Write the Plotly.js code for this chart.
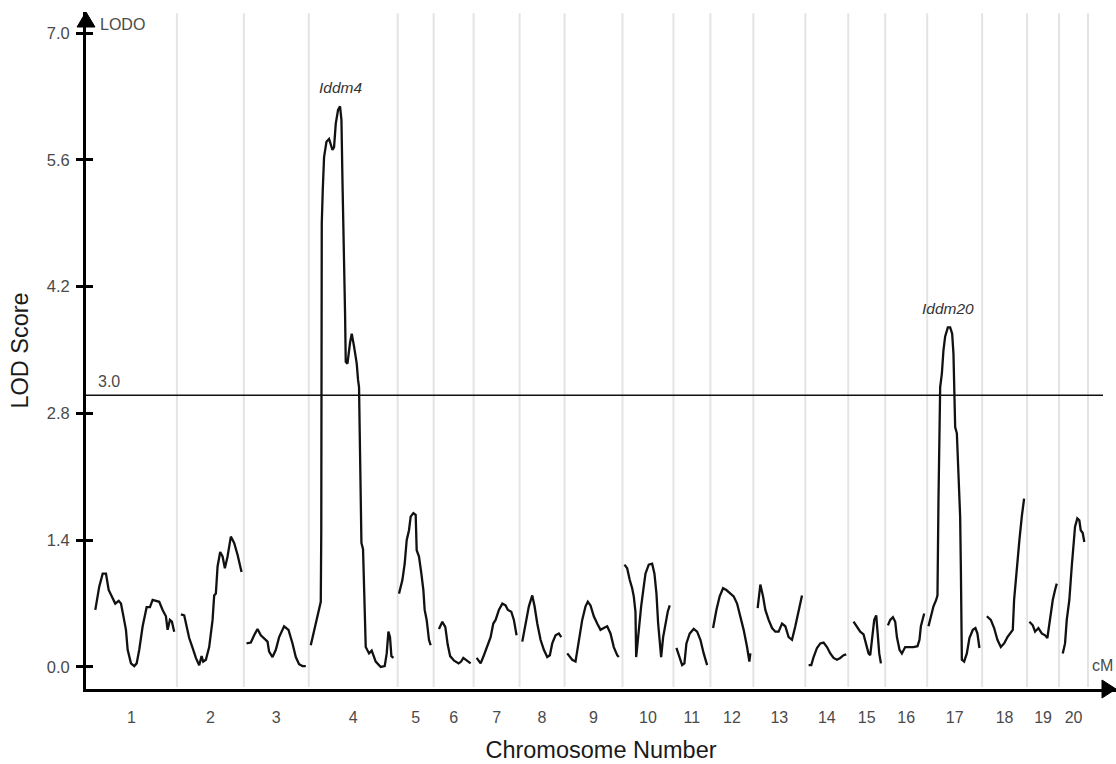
<!DOCTYPE html>
<html>
<head>
<meta charset="utf-8">
<script src="https://cdn.plot.ly/plotly-3.0.1.min.js"></script>
<style>
  html, body { margin: 0; padding: 0; background: #fff; }
  #chart { width: 1116px; height: 764px; }
</style>
</head>
<body>
<div id="chart"></div>
<script>
// ---------------- DATA ----------------
const chromosomes = ['1','2','3','4','5','6','7','8','9','10','11','12','13','14','15','16','17','18','19','20'];
// chromosome lengths (cM, as drawn)
const chrLengths = [91, 67, 65, 89, 36, 40, 46, 45, 58, 51, 37, 43, 52, 43, 37, 42, 55, 45, 32, 29];

// positions within each chromosome (cM)
const lodPositions = [
  [9.3,13.3,16.7,20,22.7,26.7,29.3,32.7,35,37.3,40,41.7,45,48.3,50.7,53.3,56.7,60.7,64,66.7,70,73.3,76.7,80,81.7,84,86,88.3],
  [4,7.3,9.7,12.3,15.7,19,22.3,24.7,26.3,29,32.3,35.7,37.3,39,40.7,43.3,45.7,48,50.7,54,57.3,60.7,64.7],
  [2.7,7,10.3,13.7,17,20.3,23.7,25.3,28.7,32,35.3,40.3,44.7,48.7,52,55.3,58.7,62],
  [2,7,11,12,12.5,12.8,13,14,15.3,17.7,20.3,23.7,25.3,27,29.3,31.3,32.7,33.7,35.3,36.3,37,38.7,41.3,43,45.3,48,49.3,50.3,52.7,54.3,57,60.3,63,67,72,76,78,79.7,81.3,82.7,84.7],
  [1.3,4.7,7,9,11.3,13,15.7,18,19,21.3,23.7,25.7,27,29,31.3,33],
  [5.3,8.7,11.7,14,16.5,20.5,25,27.5,29.7,32,35.3,37],
  [3,7,10.3,13.7,17,19.7,22,25.3,28.7,32,34.3,37.7,40.3,43],
  [2.7,6,9.3,12.7,15,17.7,21,24.3,27.7,30.3,32.7,36,39.3,41.7],
  [2.7,7.7,11,14.3,17.7,21,23.3,26,29.3,32.7,36,39.3,42.7,46,49.3,52.7,54.3],
  [2,4.7,7.3,9.7,11.3,13,13.7,14.7,16.3,18.7,21.3,23,26.3,29.7,32,34,35.7,37.3,38.7,40.7,43,45.3,47.3],
  [3,5.3,8.7,11,13,16.3,20.3,23.7,27,30.3,33.7],
  [2.7,6,9.3,12.7,16,20,23.3,26.7,30,33.3,36.7,39,40],
  [4.3,7,9.7,12,15.3,18.7,22,25.3,28.7,32,35.3,38.7,42,45.3,48.7],
  [3.3,6,8.3,11.7,15,18.3,21.7,25,28.3,31.7,35,38.3,41],
  [5.3,8.7,12,15.3,18,20.3,22,23.7,26,28,29.3,31,32.7],
  [2.7,5,7.7,10,11.7,14.3,16.7,20,24.3,28.3,32.3,34.3,35.7,37.7,39],
  [1.3,3.7,6.3,9,10.3,11.3,12,13,14.7,16.3,18,20.7,23,25,26.3,27.3,28,29.7,31.3,33,33.7,34.7,37,39.7,42.3,45.7,48.3,50.3,52.3],
  [4.7,8.7,12,15.3,18.7,22,25.3,28.7,30.7,32,34.7,37.3,39.7,42],
  [2.3,5.7,8,11.3,14.7,18,20.3,23,25.7,28,29.7],
  [3.7,6,7.7,10.3,12.7,14.3,16,18.3,20.3,21.7,23.7,25.3]
];

// LOD scores at those positions
const lodScores = [
  [0.63,0.89,1.03,1.03,0.85,0.76,0.70,0.73,0.70,0.57,0.41,0.19,0.04,0.01,0.04,0.19,0.45,0.66,0.66,0.74,0.73,0.72,0.63,0.56,0.41,0.52,0.50,0.39],
  [0.58,0.57,0.45,0.32,0.21,0.10,0.02,0.12,0.06,0.08,0.22,0.52,0.79,0.81,1.11,1.27,1.22,1.09,1.22,1.44,1.37,1.24,1.05],
  [0.26,0.27,0.35,0.42,0.35,0.32,0.28,0.17,0.11,0.19,0.33,0.45,0.41,0.26,0.11,0.03,0.01,0.01],
  [0.24,0.47,0.66,0.72,1.5,3.0,4.9,5.27,5.63,5.80,5.83,5.71,5.74,6.0,6.15,6.19,6.04,5.38,4.64,3.91,3.37,3.35,3.58,3.68,3.54,3.35,3.17,3.09,1.37,1.3,0.22,0.15,0.18,0.06,0.0,0.01,0.15,0.39,0.33,0.12,0.10],
  [0.81,0.96,1.14,1.40,1.51,1.66,1.70,1.68,1.29,1.22,1.03,0.85,0.63,0.52,0.30,0.24],
  [0.42,0.50,0.44,0.25,0.12,0.07,0.04,0.06,0.10,0.08,0.05,0.04],
  [0.10,0.04,0.13,0.24,0.33,0.48,0.52,0.63,0.70,0.68,0.63,0.61,0.52,0.35],
  [0.28,0.48,0.67,0.79,0.67,0.48,0.30,0.19,0.11,0.13,0.26,0.35,0.37,0.33],
  [0.15,0.08,0.06,0.30,0.52,0.67,0.72,0.68,0.56,0.48,0.41,0.43,0.45,0.37,0.22,0.13,0.11],
  [1.13,1.09,0.96,0.87,0.78,0.61,0.11,0.22,0.45,0.67,0.89,1.03,1.13,1.14,1.03,0.81,0.48,0.22,0.11,0.33,0.48,0.61,0.68],
  [0.21,0.13,0.02,0.04,0.26,0.37,0.42,0.39,0.30,0.15,0.02],
  [0.43,0.63,0.78,0.87,0.85,0.81,0.78,0.70,0.56,0.41,0.22,0.06,0.15],
  [0.65,0.91,0.78,0.63,0.52,0.43,0.39,0.39,0.48,0.45,0.33,0.30,0.45,0.63,0.79],
  [0.02,0.02,0.11,0.21,0.26,0.27,0.22,0.15,0.10,0.08,0.10,0.13,0.14],
  [0.50,0.45,0.39,0.36,0.26,0.15,0.13,0.33,0.52,0.57,0.37,0.15,0.04],
  [0.46,0.52,0.55,0.50,0.33,0.19,0.15,0.22,0.22,0.22,0.23,0.30,0.45,0.56,0.59],
  [0.45,0.57,0.67,0.74,0.79,1.84,2.76,3.09,3.24,3.50,3.65,3.75,3.75,3.68,3.46,2.98,2.65,2.58,2.14,1.66,1.11,0.08,0.06,0.15,0.32,0.41,0.43,0.37,0.21],
  [0.56,0.52,0.43,0.30,0.22,0.26,0.33,0.38,0.41,0.74,1.11,1.40,1.66,1.86],
  [0.50,0.46,0.39,0.43,0.37,0.35,0.32,0.52,0.74,0.85,0.92],
  [0.15,0.26,0.52,0.74,1.11,1.29,1.55,1.64,1.62,1.51,1.48,1.38]
];

const yTickVals = [0, 1.4, 2.8, 4.2, 5.6, 7.0];
const yTickText = ['0.0', '1.4', '2.8', '4.2', '5.6', '7.0'];
const threshold = 3.0;
const lociLabels = [
  { chr: '4', name: 'Iddm4' },
  { chr: '17', name: 'Iddm20' }
];

// ---------------- BUILD ----------------
const chrStarts = [];
let acc = 0;
chrLengths.forEach(l => { chrStarts.push(acc); acc += l; });
const chrMids = chrLengths.map((l, i) => chrStarts[i] + l / 2);

const xRange = [0, 1031];
const yRange = [-0.243, 7.232];
const plotW = 1116 - 86, plotH = 764 - 12 - 75;

const FONT = 'Liberation Sans, Arial, Helvetica, sans-serif';
const TXT = '#4a4a4a';

const traces = chromosomes.map((c, i) => ({
  type: 'scatter', mode: 'lines',
  x: lodPositions[i].map(p => chrStarts[i] + p),
  y: lodScores[i],
  line: { color: '#111', width: 2.3 },
  hoverinfo: 'skip', showlegend: false, xaxis: 'x', yaxis: 'y'
}));
// dummy trace for the overlaid tick axis
traces.push({ type: 'scatter', mode: 'none', x: [0], y: [0], yaxis: 'y2', xaxis: 'x', hoverinfo: 'skip', showlegend: false });

const shapes = [];
// chromosome separators
chrStarts.slice(1).concat([acc]).forEach(b => {
  shapes.push({ type: 'line', layer: 'below', xref: 'x', yref: 'paper', x0: b, x1: b, y0: 0.003, y1: 0.998,
    line: { color: '#e4e4e4', width: 2 } });
});
// threshold line
shapes.push({ type: 'line', xref: 'x', yref: 'y', x0: 0, x1: 1018, y0: threshold, y1: threshold,
  line: { color: '#111', width: 1.6 } });
// arrow heads
const hx = 9 / plotW, hy = 15 / plotH;
shapes.push({ type: 'path', xref: 'paper', yref: 'paper', fillcolor: '#000', line: { color: '#000', width: 1 },
  path: `M ${-hx} ${1 - hy} L ${hx} ${1 - hy} L 0 1 Z` });
const ax = 14 / plotW, ay = 9 / plotH;
shapes.push({ type: 'path', xref: 'paper', yref: 'paper', fillcolor: '#000', line: { color: '#000', width: 1 },
  path: `M ${1 - ax} ${-ay} L ${1 - ax} ${ay} L 1 0 Z` });

const annotations = [
  { xref: 'x', yref: 'y', x: 12, y: 7.09, text: 'LODO', showarrow: false, xanchor: 'left', yanchor: 'middle',
    font: { family: FONT, size: 16, color: TXT } },
  { xref: 'x', yref: 'y', x: 1030, y: 0.02, text: 'cM', showarrow: false, xanchor: 'right', yanchor: 'middle',
    font: { family: FONT, size: 16, color: TXT } },
  { xref: 'x', yref: 'y', x: 10, y: threshold, yshift: 14, text: threshold.toFixed(1), showarrow: false, xanchor: 'left', yanchor: 'middle',
    font: { family: FONT, size: 16, color: TXT } }
];
lociLabels.forEach(l => {
  const i = chromosomes.indexOf(l.chr);
  let m = 0;
  lodScores[i].forEach((v, k) => { if (v > lodScores[i][m]) m = k; });
  annotations.push({ xref: 'x', yref: 'y', x: chrStarts[i] + lodPositions[i][m], y: lodScores[i][m],
    text: '<i>' + l.name + '</i>', showarrow: false, xanchor: 'center', yanchor: 'bottom', yshift: 8,
    font: { family: FONT, size: 15.5, color: '#333' } });
});

const layout = {
  width: 1116, height: 764,
  margin: { l: 86, r: 0, t: 12, b: 75 },
  paper_bgcolor: '#fff', plot_bgcolor: '#fff',
  font: { family: FONT, color: '#333' },
  xaxis: {
    range: xRange, showgrid: false, zeroline: false,
    showline: true, linecolor: '#000', linewidth: 3,
    tickmode: 'array', tickvals: chrMids, ticktext: chromosomes, ticks: '',
    tickfont: { family: FONT, size: 16, color: TXT }, ticklabelstandoff: 12,
    title: { text: 'Chromosome Number', font: { family: FONT, size: 23.5, color: '#1a1a1a' }, standoff: 17 }
  },
  yaxis: {
    range: yRange, showgrid: false, zeroline: false,
    showline: true, linecolor: '#000', linewidth: 3,
    tickmode: 'array', tickvals: yTickVals, ticktext: yTickText,
    ticks: 'outside', ticklen: 7, tickwidth: 3, tickcolor: '#000',
    tickfont: { family: FONT, size: 16.5, color: TXT }, ticklabelstandoff: 3,
    title: { text: 'LOD Score', font: { family: FONT, size: 23.5, color: '#1a1a1a' }, standoff: 12 }
  },
  yaxis2: {
    overlaying: 'y', anchor: 'x', side: 'left', range: yRange,
    showgrid: false, zeroline: false, showline: false, showticklabels: false,
    tickmode: 'array', tickvals: yTickVals, ticks: 'inside', ticklen: 7, tickwidth: 3, tickcolor: '#000'
  },
  shapes: shapes,
  annotations: annotations,
  showlegend: false
};

Plotly.newPlot('chart', traces, layout, { staticPlot: true, displayModeBar: false });
</script>
</body>
</html>
